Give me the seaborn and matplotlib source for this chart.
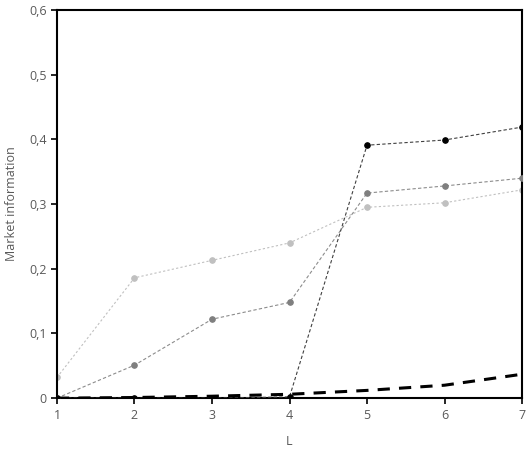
import numpy as np
import pandas as pd
import matplotlib.pyplot as plt
import matplotlib.ticker as mticker
import seaborn as sns

L = [1, 2, 3, 4, 5, 6, 7]
black = [0.0, 0.0, 0.0, 0.002, 0.391, 0.399, 0.419]
dark = [0.0, 0.051, 0.122, 0.148, 0.317, 0.328, 0.340]
light = [0.032, 0.186, 0.213, 0.240, 0.295, 0.302, 0.322]
base = [0.0, 0.001, 0.003, 0.006, 0.012, 0.020, 0.037]

sns.set_style("ticks")
plt.rcParams['font.family'] = ['Open Sans', 'DejaVu Sans']

fig = plt.figure(figsize=(5.3, 4.54), dpi=100)
ax = fig.add_axes([0.1075, 0.123, 0.8775, 0.855])

sns.lineplot(x=L, y=light, ax=ax, color="#c0c0c0", lw=0.8, marker="o", ms=4,
             mec="#c0c0c0", linestyle=(0, (2, 2)), zorder=2)
sns.lineplot(x=L, y=dark, ax=ax, color="#8c8c8c", lw=0.8, marker="o", ms=4,
             mec="#7f7f7f", mfc="#7f7f7f", linestyle=(0, (3, 2)), zorder=3)
sns.lineplot(x=L, y=black, ax=ax, color="#404040", lw=0.8, marker="o", ms=4,
             mec="black", mfc="black", linestyle=(0, (3, 2)), zorder=4)
sns.lineplot(x=L, y=base, ax=ax, color="black", lw=2.2,
             linestyle=(0, (4, 3)), zorder=5)

ax.set_xlim(1, 7)
ax.set_ylim(0, 0.6)
ax.set_xticks(L)
ax.set_yticks(np.arange(0, 0.61, 0.1))
ax.yaxis.set_major_formatter(mticker.FuncFormatter(
    lambda v, p: "0" if abs(v) < 1e-9 else f"{v:.1f}".replace(".", ",")))
ax.set_xlabel("L", fontsize=9, color="#595959", labelpad=10)
ax.set_ylabel("Market information", fontsize=9, color="#595959", labelpad=8)
ax.tick_params(labelsize=9, labelcolor="#595959", color="black", length=4, width=1.2)
for s in ax.spines.values():
    s.set_linewidth(1.5)
    s.set_color("black")

fig.savefig("out.png", dpi=100)
